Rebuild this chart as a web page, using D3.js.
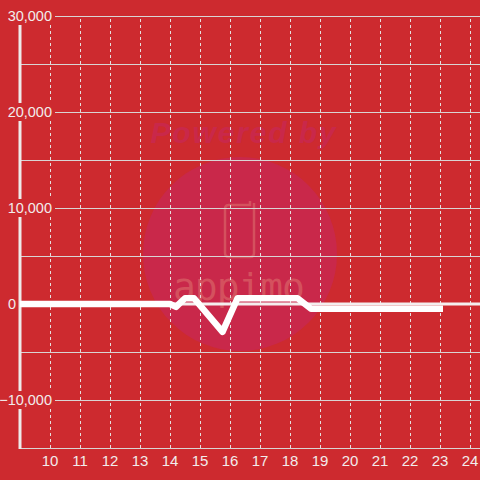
<!DOCTYPE html>
<html><head><meta charset="utf-8">
<script src="https://cdn.jsdelivr.net/npm/d3@7"></script>
<style>html,body{margin:0;padding:0;background:#cd2a2f;}svg{display:block;}</style>
</head><body>
<script>
const hours = [9, 14, 14.2, 14.5, 14.8, 15.75, 16.25, 18.25, 18.7, 23.1];
const values = [0, 0, -300, 600, 600, -2900, 600, 600, -500, -500];
const xTicks = [10, 11, 12, 13, 14, 15, 16, 17, 18, 19, 20, 21, 22, 23, 24];
const yLabelTicks = [-10000, 0, 10000, 20000, 30000];
const yGridTicks = [-15000, -10000, -5000, 0, 5000, 10000, 15000, 20000, 25000, 30000];

const W = 480, H = 480, BG = "#cd2a2f";
const svg = d3.select("body").append("svg").attr("width", W).attr("height", H);
svg.append("rect").attr("width", W).attr("height", H).attr("fill", BG);

const x = d3.scaleLinear().domain([9, 24 + 1/3]).range([20, 480]);
const y = d3.scaleLinear().domain([-15000, 30000]).range([448, 16]);
const FONT = "Liberation Sans, Arial, sans-serif";

// watermark
const wm = svg.append("g");
wm.append("circle").attr("cx", 240).attr("cy", 254).attr("r", 97).attr("fill", "#c9284a");
wm.append("text").attr("x", 243).attr("y", 143).attr("text-anchor", "middle")
  .attr("font-family", FONT).attr("font-weight", "bold")
  .attr("font-style", "italic").attr("font-size", 30).attr("textLength", 185)
  .attr("fill", "#c9284a").text("Powered by");
wm.append("path")
  .attr("d", "M228,205 H250 V201 M254,203 V253 Q254,257 250,257 H229 Q225,257 225,253 V209 Q225,205 229,205")
  .attr("fill", "none").attr("stroke", "#d4515e").attr("stroke-width", 2.5);
wm.append("text").attr("x", 239).attr("y", 300).attr("text-anchor", "middle")
  .attr("font-family", "DejaVu Sans Mono, monospace").attr("font-size", 38)
  .attr("textLength", 132).attr("fill", "#d4515e").text("appimo");

// horizontal grid
svg.append("g").selectAll("line").data(yGridTicks).join("line")
  .attr("x1", 20).attr("x2", 480)
  .attr("y1", d => y(d) + 0.5).attr("y2", d => y(d) + 0.5)
  .attr("stroke", "#d9d4d4").attr("stroke-width", 1);

// vertical dashed grid
svg.append("g").selectAll("line").data(xTicks).join("line")
  .attr("x1", d => x(d) + 0.5).attr("x2", d => x(d) + 0.5)
  .attr("y1", 19).attr("y2", 448)
  .attr("stroke", "#e6dede").attr("stroke-width", 1).attr("stroke-dasharray", "3,3");

// bottom axis line
svg.append("line").attr("x1", 20).attr("x2", 480).attr("y1", 448.5).attr("y2", 448.5)
  .attr("stroke", "#d9d4d4").attr("stroke-width", 1);

// zero line
svg.append("line").attr("x1", 20).attr("x2", 480).attr("y1", y(0)).attr("y2", y(0))
  .attr("stroke", "#f4eeee").attr("stroke-width", 3);

// y axis line
svg.append("line").attr("x1", 20).attr("x2", 20).attr("y1", 24).attr("y2", 449)
  .attr("stroke", "#eeeaea").attr("stroke-width", 3);

// y labels with background
const yl = svg.append("g").selectAll("g").data(yLabelTicks).join("g")
  .attr("transform", d => `translate(${d === 0 ? 16 : 52},${y(d)})`);
yl.filter(d => d !== 0).append("rect").attr("x", -50).attr("y", -9)
  .attr("width", 53).attr("height", 18).attr("fill", BG);
yl.append("text").attr("text-anchor", "end").attr("dy", "0.35em")
  .attr("font-family", FONT).attr("font-size", 14.5)
  .attr("fill", "#f2ecec").text(d => d3.format(",")(d));

// x labels
svg.append("g").selectAll("text").data(xTicks).join("text")
  .attr("x", d => x(d)).attr("y", 466).attr("text-anchor", "middle")
  .attr("font-family", FONT).attr("font-size", 15)
  .attr("fill", "#f2ecec").text(d => d);

// data line
const data = hours.map((h, i) => ({h, v: values[i]}));
svg.append("path").datum(data)
  .attr("d", d3.line().x(d => x(d.h)).y(d => y(d.v)))
  .attr("fill", "none").attr("stroke", "#ffffff").attr("stroke-width", 6.5)
  .attr("stroke-linejoin", "round");
</script>
</body></html>
